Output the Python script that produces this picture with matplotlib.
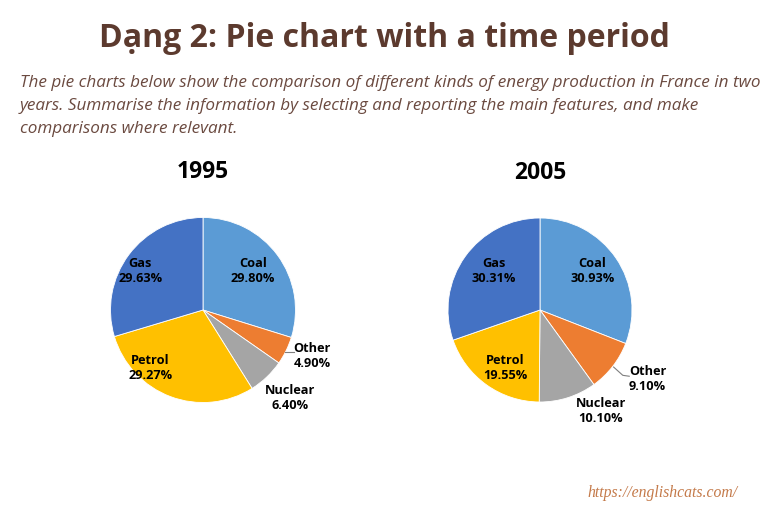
import matplotlib.pyplot as plt
import numpy as np

W, H = 768, 512

categories = ["Coal", "Other", "Nuclear", "Petrol", "Gas"]
values_1995 = [29.80, 4.90, 6.40, 29.27, 29.63]
values_2005 = [30.93, 9.10, 10.10, 19.55, 30.31]
years = ["1995", "2005"]
colors = ["#5B9BD5", "#ED7D31", "#A5A5A5", "#FFC000", "#4472C4"]

title = "Dạng 2: Pie chart with a time period"
subtitle_lines = [
    "The pie charts below show the comparison of different kinds of energy production in France in two",
    "years. Summarise the information by selecting and reporting the main features, and make",
    "comparisons where relevant.",
]
watermark = "https://englishcats.com/"

# layout: pie centres / radius in pixels, label spots in units of radius
PIES = [
    {"cx": 203, "cy": 310, "r": 92.5,
     "labels": [(0.54, 0.42), (1.18, -0.50), (0.94, -0.95), (-0.57, -0.63), (-0.68, 0.42)],
     "leader": [(0.89, -0.45), (0.98, -0.45)]},
    {"cx": 540, "cy": 310, "r": 92,
     "labels": [(0.57, 0.42), (1.17, -0.75), (0.66, -1.10), (-0.38, -0.63), (-0.50, 0.42)],
     "leader": [(0.80, -0.62), (0.90, -0.71), (0.97, -0.72)]},
]

fig = plt.figure(figsize=(W / 100, H / 100), dpi=100)
fig.patch.set_facecolor("white")


def fx(x):
    return x / W


def fy(y):
    return 1 - y / H


fig.text(fx(384), fy(47), title, ha="center", va="baseline", fontsize=23,
         fontweight="bold", family="Open Sans", color="#5c3a2e")
for i, line in enumerate(subtitle_lines):
    fig.text(fx(20), fy(87 + 23 * i), line, ha="left", va="baseline", fontsize=12.3,
             style="italic", family="Open Sans", color="#6b4a40")

for pie, year, vals in zip(PIES, years, [values_1995, values_2005]):
    r = pie["r"]
    ax = fig.add_axes([fx(pie["cx"] - 2 * r), fy(pie["cy"] + 2 * r), 4 * r / W, 4 * r / H])
    ax.set_aspect("equal")
    ax.axis("off")
    ax.pie(vals, colors=colors, startangle=90, counterclock=False, radius=1,
           wedgeprops={"edgecolor": "white", "linewidth": 0.6})
    ax.set_xlim(-2, 2)
    ax.set_ylim(-2, 2)
    ax.text(0, 1.49, year, ha="center", va="center", fontsize=16.5,
            fontweight="bold", family="Open Sans", color="black")
    for cat, v, (lx, ly) in zip(categories, vals, pie["labels"]):
        ax.text(lx, ly, f"{cat}\n{v:.2f}%", ha="center", va="center", fontsize=9.2,
                fontweight="bold", family="Open Sans", color="black", linespacing=1.2)
    xs, ys = zip(*pie["leader"])
    ax.plot(xs, ys, color="#7f7f7f", lw=0.8)

fig.text(fx(662), fy(497), watermark, ha="center", va="baseline", fontsize=11.3,
         style="italic", family="Liberation Serif", color="#c47a4a")

fig.savefig("out.png", dpi=100, facecolor="white")
